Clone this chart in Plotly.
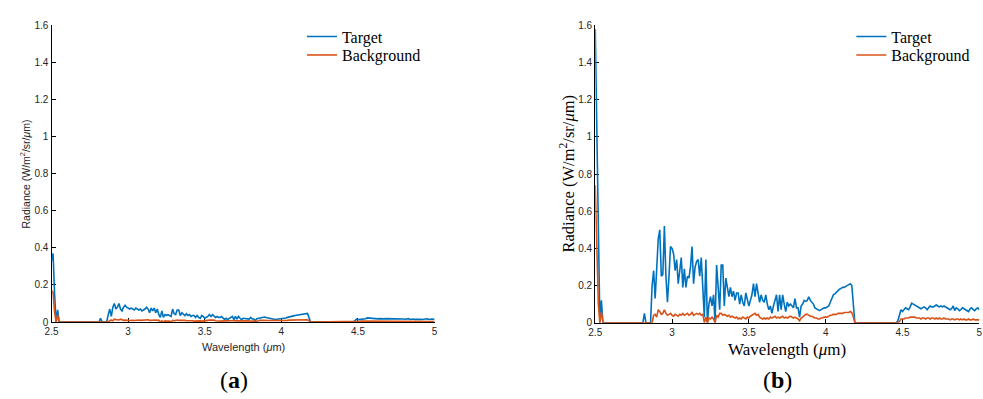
import numpy as np
import plotly.graph_objects as go

# ---------------- data ----------------
wavelength = np.round(np.linspace(2.5, 5.0, 251), 2)  # micrometres, 0.01 step

target_a = [
    0.33, 0.37, 0.15, 0.00, 0.065, 0.00, 0, 0, 0, 0,               # 2.50
    0, 0, 0, 0, 0, 0, 0, 0, 0, 0,                                   # 2.60
    0, 0, 0, 0, 0, 0, 0, 0, 0, 0,                                   # 2.70
    0, 0, 0.02, 0, 0, 0, 0, 0.04, 0.07, 0.03,                       # 2.80
    0.08, 0.10, 0.07, 0.08, 0.10, 0.07, 0.06, 0.08, 0.09, 0.08,     # 2.90
    0.075, 0.07, 0.075, 0.07, 0.065, 0.075, 0.07, 0.065, 0.07, 0.06,  # 3.00
    0.065, 0.07, 0.08, 0.07, 0.05, 0.075, 0.06, 0.075, 0.05, 0.07,   # 3.10
    0.04, 0.025, 0.06, 0.025, 0.04, 0.035, 0.04, 0.035, 0.03, 0.07,  # 3.20
    0.045, 0.04, 0.065, 0.065, 0.035, 0.05, 0.04, 0.035, 0.045, 0.035,  # 3.30
    0.04, 0.03, 0.035, 0.035, 0.025, 0.035, 0.025, 0.02, 0.035, 0.03,   # 3.40
    0.02, 0.025, 0.03, 0.04, 0.03, 0.04, 0.03, 0.025, 0.03, 0.025,      # 3.50
    0.025, 0.03, 0.02, 0.015, 0.02, 0.012, 0.02, 0.025, 0.03, 0.013,    # 3.60
    0.03, 0.015, 0.03, 0.02, 0.013, 0.02, 0.018, 0.02, 0.018, 0.016,    # 3.70
    0.025, 0.016, 0.016, 0.008, 0.018, 0.02, 0.024, 0.023, 0.024, 0.027,  # 3.80
    0.024, 0.022, 0.02, 0.017, 0.016, 0.015, 0.014, 0.015, 0.016, 0.017,  # 3.90
    0.017, 0.018, 0.019, 0.022, 0.025, 0.028, 0.03, 0.032, 0.033, 0.035,  # 4.00
    0.036, 0.038, 0.039, 0.04, 0.042, 0.043, 0.045, 0.046, 0.025, 0.0,    # 4.10
    0, 0, 0, 0, 0, 0, 0, 0, 0, 0,                                   # 4.20
    0, 0, 0, 0, 0, 0, 0, 0, 0, 0,                                   # 4.30
    0, 0, 0, 0, 0, 0, 0, 0.002, 0.008, 0.015,                       # 4.40
    0.013, 0.014, 0.016, 0.015, 0.015, 0.018, 0.022, 0.021, 0.02, 0.019,  # 4.50
    0.018, 0.017, 0.016, 0.017, 0.018, 0.017, 0.015, 0.017, 0.018, 0.018,  # 4.60
    0.018, 0.019, 0.02, 0.019, 0.018, 0.019, 0.018, 0.019, 0.018, 0.017,   # 4.70
    0.016, 0.015, 0.016, 0.018, 0.014, 0.017, 0.016, 0.014, 0.015, 0.017,  # 4.80
    0.016, 0.015, 0.014, 0.013, 0.016, 0.017, 0.015, 0.014, 0.016, 0.017,  # 4.90
    0.015,                                                          # 5.00
]

background_a = [
    0.17, 0.16, 0.05, 0.0, 0.04, 0.0, 0, 0, 0, 0,                   # 2.50
    0, 0, 0, 0, 0, 0, 0, 0, 0, 0,                                   # 2.60
    0, 0, 0, 0, 0, 0, 0, 0, 0, 0,                                   # 2.70
    0, 0, 0, 0, 0, 0, 0, 0, 0.008, 0.01,                            # 2.80
    0.007, 0.015, 0.013, 0.01, 0.011, 0.015, 0.011, 0.009, 0.01, 0.011,  # 2.90
    0.009, 0.008, 0.01, 0.009, 0.008, 0.01, 0.009, 0.011, 0.009, 0.01,   # 3.00
    0.011, 0.009, 0.01, 0.012, 0.009, 0.01, 0.011, 0.01, 0.011, 0.009,   # 3.10
    0.01, 0.0, 0.007, 0.0, 0.006, 0.005, 0.007, 0.005, 0.0, 0.009,      # 3.20
    0.007, 0.011, 0.011, 0.009, 0.01, 0.009, 0.008, 0.009, 0.007, 0.008, # 3.30
    0.007, 0.006, 0.007, 0.005, 0.006, 0.005, 0.007, 0.006, 0.005, 0.007,  # 3.40
    0.006, 0.008, 0.009, 0.01, 0.011, 0.009, 0.01, 0.007, 0.006, 0.005,   # 3.50
    0.006, 0.005, 0.006, 0.005, 0.007, 0.006, 0.007, 0.008, 0.006, 0.007, # 3.60
    0.006, 0.007, 0.008, 0.006, 0.007, 0.006, 0.007, 0.008, 0.007, 0.006, # 3.70
    0.007, 0.006, 0.005, 0.002, 0.006, 0.007, 0.009, 0.01, 0.01, 0.009,   # 3.80
    0.008, 0.008, 0.007, 0.006, 0.006, 0.005, 0.005, 0.006, 0.006, 0.007, # 3.90
    0.007, 0.007, 0.008, 0.009, 0.009, 0.01, 0.01, 0.01, 0.011, 0.011,    # 4.00
    0.011, 0.011, 0.012, 0.012, 0.012, 0.012, 0.013, 0.012, 0.007, 0.0,  # 4.10
    0, 0, 0, 0, 0, 0, 0, 0, 0, 0,                                   # 4.20
    0, 0, 0, 0, 0, 0, 0, 0, 0, 0,                                   # 4.30
    0, 0, 0, 0, 0, 0, 0, 0, 0.001, 0.004,                           # 4.40
    0.004, 0.004, 0.005, 0.005, 0.005, 0.006, 0.006, 0.006, 0.006, 0.005,  # 4.50
    0.005, 0.005, 0.004, 0.005, 0.005, 0.004, 0.005, 0.005, 0.004, 0.005,  # 4.60
    0.005, 0.004, 0.005, 0.004, 0.005, 0.004, 0.004, 0.005, 0.004, 0.004,  # 4.70
    0.004, 0.003, 0.004, 0.004, 0.003, 0.004, 0.004, 0.003, 0.004, 0.003,  # 4.80
    0.004, 0.003, 0.003, 0.004, 0.003, 0.003, 0.004, 0.003, 0.003, 0.003,  # 4.90
    0.003,                                                          # 5.00
]

target_b = [
    1.58, 1.05, 0.30, 0.00, 0.12, 0.00, 0, 0, 0, 0,                 # 2.50
    0, 0, 0, 0, 0, 0, 0, 0, 0, 0,                                   # 2.60
    0, 0, 0, 0, 0, 0, 0, 0, 0, 0,                                   # 2.70
    0, 0, 0.05, 0, 0, 0, 0.0, 0.20, 0.28, 0.13,                     # 2.80
    0.30, 0.45, 0.50, 0.25, 0.26, 0.52, 0.25, 0.11, 0.25, 0.41,     # 2.90
    0.40, 0.37, 0.28, 0.34, 0.21, 0.30, 0.35, 0.19, 0.29, 0.19,     # 3.00
    0.25, 0.24, 0.30, 0.41, 0.21, 0.30, 0.33, 0.34, 0.25, 0.35,     # 3.10
    0.15, 0.03, 0.34, 0.00, 0.10, 0.14, 0.09, 0.15, 0.00, 0.31,     # 3.20
    0.19, 0.07, 0.31, 0.31, 0.09, 0.24, 0.19, 0.14, 0.19, 0.14,     # 3.30
    0.17, 0.12, 0.16, 0.16, 0.10, 0.15, 0.11, 0.09, 0.16, 0.13,     # 3.40
    0.09, 0.12, 0.15, 0.21, 0.14, 0.21, 0.16, 0.11, 0.15, 0.12,     # 3.50
    0.11, 0.15, 0.10, 0.07, 0.09, 0.05, 0.09, 0.13, 0.15, 0.06,     # 3.60
    0.15, 0.07, 0.15, 0.10, 0.06, 0.11, 0.09, 0.10, 0.09, 0.08,     # 3.70
    0.13, 0.08, 0.08, 0.03, 0.09, 0.10, 0.12, 0.115, 0.12, 0.14,    # 3.80
    0.12, 0.11, 0.10, 0.08, 0.075, 0.07, 0.065, 0.07, 0.075, 0.08,  # 3.90
    0.08, 0.085, 0.09, 0.11, 0.13, 0.15, 0.155, 0.165, 0.17, 0.18,  # 4.00
    0.185, 0.19, 0.19, 0.195, 0.20, 0.205, 0.21, 0.20, 0.10, 0.00,  # 4.10
    0, 0, 0, 0, 0, 0, 0, 0, 0, 0,                                   # 4.20
    0, 0, 0, 0, 0, 0, 0, 0, 0, 0,                                   # 4.30
    0, 0, 0, 0, 0, 0, 0, 0.01, 0.04, 0.07,                          # 4.40
    0.06, 0.07, 0.08, 0.075, 0.07, 0.085, 0.105, 0.10, 0.095, 0.09,  # 4.50
    0.085, 0.08, 0.075, 0.08, 0.085, 0.08, 0.07, 0.08, 0.09, 0.085,  # 4.60
    0.085, 0.09, 0.095, 0.09, 0.085, 0.09, 0.085, 0.09, 0.085, 0.08, # 4.70
    0.075, 0.07, 0.075, 0.09, 0.065, 0.08, 0.075, 0.065, 0.07, 0.08, # 4.80
    0.075, 0.07, 0.065, 0.06, 0.075, 0.08, 0.07, 0.065, 0.075, 0.08, # 4.90
    0.07,                                                           # 5.00
]

background_b = [
    0.74, 0.45, 0.10, 0.00, 0.06, 0.00, 0, 0, 0, 0,                 # 2.50
    0, 0, 0, 0, 0, 0, 0, 0, 0, 0,                                   # 2.60
    0, 0, 0, 0, 0, 0, 0, 0, 0, 0,                                   # 2.70
    0, 0, 0, 0, 0, 0, 0, 0, 0.04, 0.045,                            # 2.80
    0.03, 0.07, 0.06, 0.045, 0.05, 0.07, 0.05, 0.04, 0.045, 0.05,   # 2.90
    0.04, 0.035, 0.045, 0.04, 0.035, 0.045, 0.04, 0.05, 0.04, 0.045,  # 3.00
    0.05, 0.04, 0.045, 0.055, 0.04, 0.045, 0.05, 0.045, 0.05, 0.04,   # 3.10
    0.045, 0.0, 0.03, 0.0, 0.025, 0.02, 0.03, 0.02, 0.0, 0.04,        # 3.20
    0.03, 0.05, 0.05, 0.04, 0.045, 0.04, 0.035, 0.04, 0.03, 0.035,    # 3.30
    0.03, 0.025, 0.03, 0.02, 0.025, 0.02, 0.03, 0.025, 0.02, 0.03,    # 3.40
    0.025, 0.035, 0.04, 0.045, 0.05, 0.04, 0.045, 0.03, 0.025, 0.02,  # 3.50
    0.025, 0.02, 0.025, 0.02, 0.03, 0.025, 0.03, 0.035, 0.025, 0.03,  # 3.60
    0.025, 0.03, 0.035, 0.025, 0.03, 0.025, 0.03, 0.035, 0.03, 0.025, # 3.70
    0.03, 0.025, 0.02, 0.01, 0.025, 0.03, 0.04, 0.045, 0.045, 0.04,   # 3.80
    0.035, 0.035, 0.03, 0.025, 0.025, 0.02, 0.02, 0.025, 0.025, 0.03, # 3.90
    0.03, 0.03, 0.035, 0.04, 0.04, 0.045, 0.045, 0.045, 0.05, 0.05,   # 4.00
    0.05, 0.05, 0.055, 0.055, 0.055, 0.055, 0.06, 0.055, 0.03, 0.0,   # 4.10
    0, 0, 0, 0, 0, 0, 0, 0, 0, 0,                                   # 4.20
    0, 0, 0, 0, 0, 0, 0, 0, 0, 0,                                   # 4.30
    0, 0, 0, 0, 0, 0, 0, 0, 0.005, 0.02,                            # 4.40
    0.02, 0.02, 0.025, 0.025, 0.025, 0.03, 0.03, 0.03, 0.03, 0.025,   # 4.50
    0.025, 0.025, 0.02, 0.025, 0.025, 0.02, 0.025, 0.025, 0.02, 0.025,  # 4.60
    0.025, 0.02, 0.025, 0.02, 0.025, 0.02, 0.02, 0.025, 0.02, 0.02,   # 4.70
    0.02, 0.015, 0.02, 0.02, 0.015, 0.02, 0.02, 0.015, 0.02, 0.015,   # 4.80
    0.02, 0.015, 0.015, 0.02, 0.015, 0.015, 0.02, 0.015, 0.015, 0.015,  # 4.90
    0.015,                                                          # 5.00
]

for s in (target_a, background_a, target_b, background_b):
    assert len(s) == len(wavelength), len(s)

series_names = ["Target", "Background"]
x_ticks = [2.5, 3, 3.5, 4, 4.5, 5]
y_ticks = [0, 0.2, 0.4, 0.6, 0.8, 1, 1.2, 1.4, 1.6]

# ---------------- style ----------------
W, H = 983, 399
BLUE = "#0072BD"
ORANGE = "#D95319"
SANS = "Liberation Sans, Arial, sans-serif"
SERIF = "Liberation Serif, Times New Roman, serif"
TICK_COLOR = "#262626"


def px(x):
    return x / W


def py(y):
    return 1 - y / H


fig = go.Figure()

# one single-item legend per entry, so the row spacing can follow the reference
panels = [
    ("x", "y", ["legend", "legend2"], target_a, background_a),
    ("x2", "y2", ["legend3", "legend4"], target_b, background_b),
]
for xa, ya, legs, tgt, bkg in panels:
    for name, vals, col, leg in zip(series_names, [tgt, bkg], [BLUE, ORANGE], legs):
        fig.add_trace(go.Scatter(
            x=wavelength, y=vals, mode="lines", name=name,
            line=dict(color=col, width=1.6),
            xaxis=xa, yaxis=ya, legend=leg,
        ))

axis_common = dict(
    showgrid=False, zeroline=False, showline=True, linecolor="#000000",
    linewidth=1.3, ticks="inside", ticklen=4, tickwidth=1, tickcolor="#000000",
    tickfont=dict(family=SANS, size=10, color=TICK_COLOR),
    layer="below traces", mirror=False,
)


def legend_at(x, y):
    return dict(x=px(x), y=py(y), xanchor="left", yanchor="top",
                font=dict(family=SERIF, size=16, color="#000000"),
                bgcolor="rgba(0,0,0,0)", borderwidth=0, tracegroupgap=0,
                itemwidth=30)


fig.update_layout(
    width=W, height=H,
    margin=dict(l=0, r=0, t=0, b=0),
    paper_bgcolor="white", plot_bgcolor="white",
    xaxis=dict(domain=[px(45), px(432)], range=[2.5, 5], tickvals=x_ticks,
               anchor="y", **axis_common),
    yaxis=dict(domain=[py(326), py(21)], range=[0, 1.6], tickvals=y_ticks,
               anchor="x", **axis_common),
    xaxis2=dict(domain=[px(594.3), px(982.3)], range=[2.5, 5], tickvals=x_ticks,
                anchor="y2", **axis_common),
    yaxis2=dict(domain=[py(326.7), py(21)], range=[0, 1.6], tickvals=y_ticks,
                anchor="x2", **axis_common),
    legend=legend_at(298, 15),
    legend2=legend_at(298, 34),
    legend3=legend_at(853, 15),
    legend4=legend_at(853, 34),
    showlegend=True,
)

annotations = [
    dict(text="Radiance (W/m<sup>2</sup>/sr/<i>μ</i>m)", x=px(18), y=py(173.5),
         textangle=-90, font=dict(family=SANS, size=10.5, color=TICK_COLOR)),
    dict(text="Wavelength (<i>μ</i>m)", x=px(238.5), y=py(352),
         font=dict(family=SANS, size=11, color=TICK_COLOR)),
    dict(text="Radiance (W/m<sup>2</sup>/sr/<i>μ</i>m)", x=px(566), y=py(173),
         textangle=-90, font=dict(family=SERIF, size=16.5, color="#000000")),
    dict(text="Wavelength (<i>μ</i>m)", x=px(788), y=py(354),
         font=dict(family=SERIF, size=17, color="#000000")),
    dict(text="(<b>a</b>)", x=px(229), y=py(386),
         font=dict(family=SERIF, size=24, color="#000000")),
    dict(text="(<b>b</b>)", x=px(778), y=py(386),
         font=dict(family=SERIF, size=24, color="#000000")),
]
for a in annotations:
    fig.add_annotation(xref="paper", yref="paper", showarrow=False,
                       xanchor="center", yanchor="middle", **a)

fig.write_html("out.html")
